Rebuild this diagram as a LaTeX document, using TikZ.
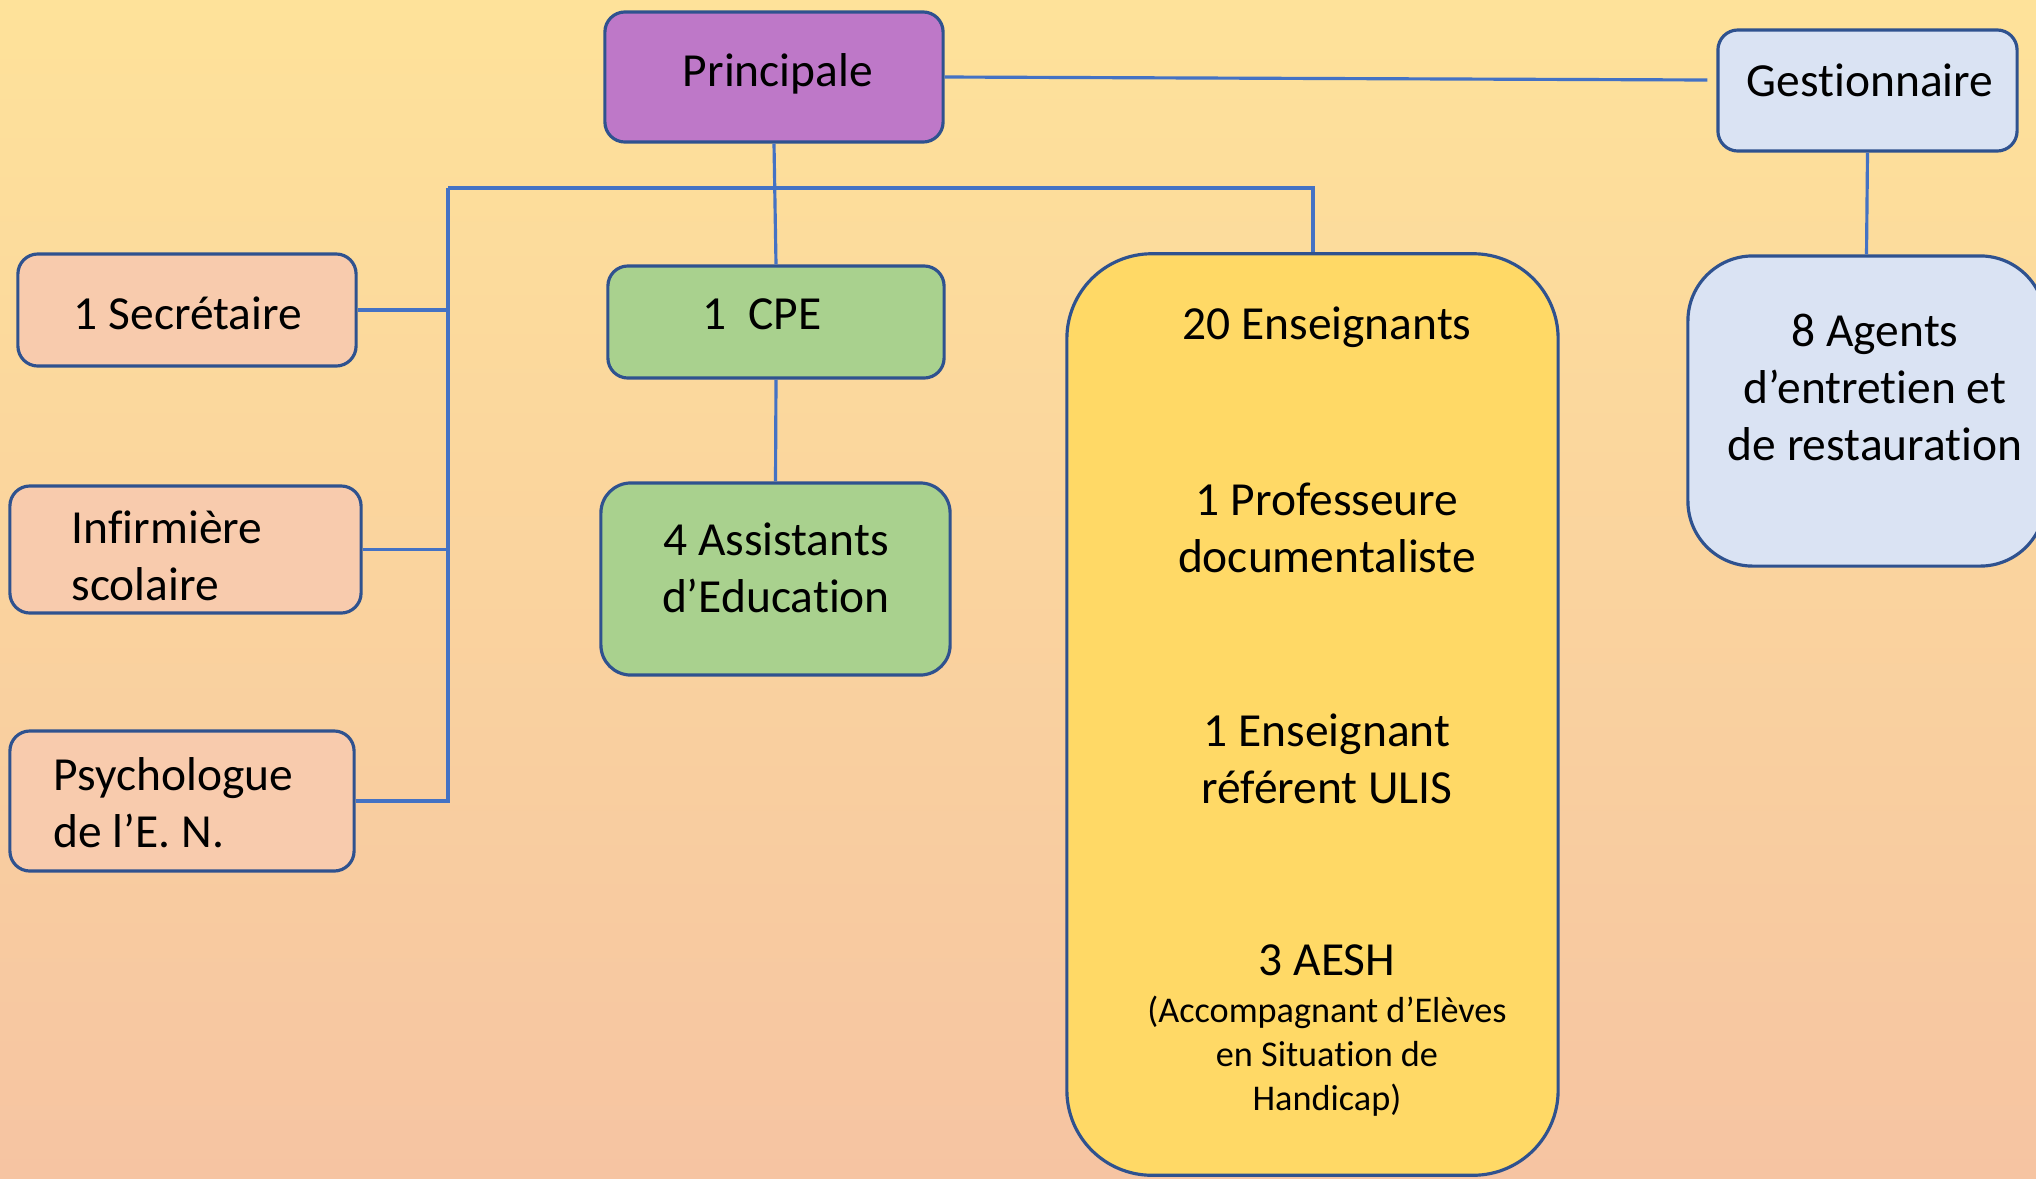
\documentclass[tikz,border=0pt]{standalone}
\usepackage{fontspec}
\setmainfont{Carlito}[Ligatures=NoCommon]
\usetikzlibrary{calc}
\definecolor{bgtop}{RGB}{254,226,154}
\definecolor{bgbot}{RGB}{246,196,162}
\definecolor{edge}{RGB}{47,82,143}
\definecolor{wire}{RGB}{68,114,196}
\definecolor{purp}{RGB}{190,120,200}
\definecolor{lblue}{RGB}{218,227,243}
\definecolor{peach}{RGB}{248,203,173}
\definecolor{lgreen}{RGB}{169,209,142}
\definecolor{gold}{RGB}{255,217,102}
\tikzset{
  box/.style={draw=edge, line width=0.9pt, rounded corners=0.2cm, inner sep=0pt},
  wirel/.style={draw=wire, line width=0.9pt},
  txt/.style={inner sep=0pt, align=center, font=\fontsize{13.5pt}{16.2pt}\selectfont},
  smalltxt/.style={inner sep=0pt, align=center, font=\fontsize{10.3pt}{12.5pt}\selectfont}
}
\begin{document}
\begin{tikzpicture}[x=0.01cm, y=-0.01cm]
\useasboundingbox (0,0) rectangle (2036,1178);
\shade[top color=bgtop, bottom color=bgbot] (0,0) rectangle (2036,1178);
\clip (0,0) rectangle (2036,1178);

% boxes
\node[box, fill=purp, minimum width=3.38cm, minimum height=1.30cm] (P) at (774,77) {};
\node[box, fill=lblue, minimum width=2.99cm, minimum height=1.21cm] (G) at (1867.5,90.5) {};
\node[box, fill=peach, minimum width=3.38cm, minimum height=1.12cm] (Sec) at (187,310) {};
\node[box, fill=peach, minimum width=3.51cm, minimum height=1.27cm] (Inf) at (185.5,549.5) {};
\node[box, fill=peach, minimum width=3.44cm, minimum height=1.40cm] (Psy) at (182,801) {};
\node[box, fill=lgreen, minimum width=3.36cm, minimum height=1.12cm] (CPE) at (776,322) {};
\node[box, fill=lgreen, rounded corners=0.3cm, minimum width=3.49cm, minimum height=1.92cm] (Ass) at (775.5,579) {};
\node[box, fill=gold, rounded corners=0.85cm, minimum width=4.91cm, minimum height=9.21cm] (Ens) at (1312.5,714.5) {};
\node[box, fill=lblue, rounded corners=0.65cm, minimum width=3.57cm, minimum height=3.10cm] (Ag) at (1866.5,411) {};

% texts
\node[txt] (tP) at (778,74) {Principale};
\node[txt] (tG) at (1870,80) {Gestionnaire};
\node[txt] (tSec) at (188,313) {1 Secrétaire};
\node[txt, anchor=west, align=left] (tInf) at (71,555.5) {Infirmière\\scolaire};
\node[txt, anchor=west, align=left] (tPsy) at (53,803) {Psychologue\\de l’E. N.};
\node[txt] (tCPE) at (762,314) {1\ \ CPE};
\node[txt] (tAss) at (776,568) {4 Assistants\\d’Education};
\node[txt] (tE1) at (1327,327) {20 Enseignants};
\node[txt] (tE2) at (1327,528) {1 Professeure\\documentaliste};
\node[txt] (tE3) at (1327,758.5) {1 Enseignant\\référent ULIS};
\node[txt] (tE4) at (1327,960) {3 AESH};
\node[smalltxt] (tE5) at (1327,1056) {(Accompagnant d’Elèves\\en Situation de\\Handicap)};
\node[txt] (tAg) at (1875,387) {8 Agents\\d’entretien et\\de restauration};

% connectors
\coordinate (busL) at (448,188);
\coordinate (busR) at (1313,188);
\coordinate (gEnd) at ($(G.west)+(-9,-10.5)$);
\draw[wirel] (P.east) -- (gEnd);
\draw[wirel] (P.south) -- (CPE.north);
\draw[wirel] (busL) -- (busR) -- (busR |- Ens.north);
\draw[wirel] (busL) -- (busL |- Psy.east) -- (Psy.east);
\draw[wirel] (Sec.east) -- (Sec.east -| busL);
\draw[wirel] (Inf.east) -- (Inf.east -| busL);
\draw[wirel] (CPE.south) -- (Ass.north);
\draw[wirel] (G.south) -- (Ag.north);
\end{tikzpicture}
\end{document}
